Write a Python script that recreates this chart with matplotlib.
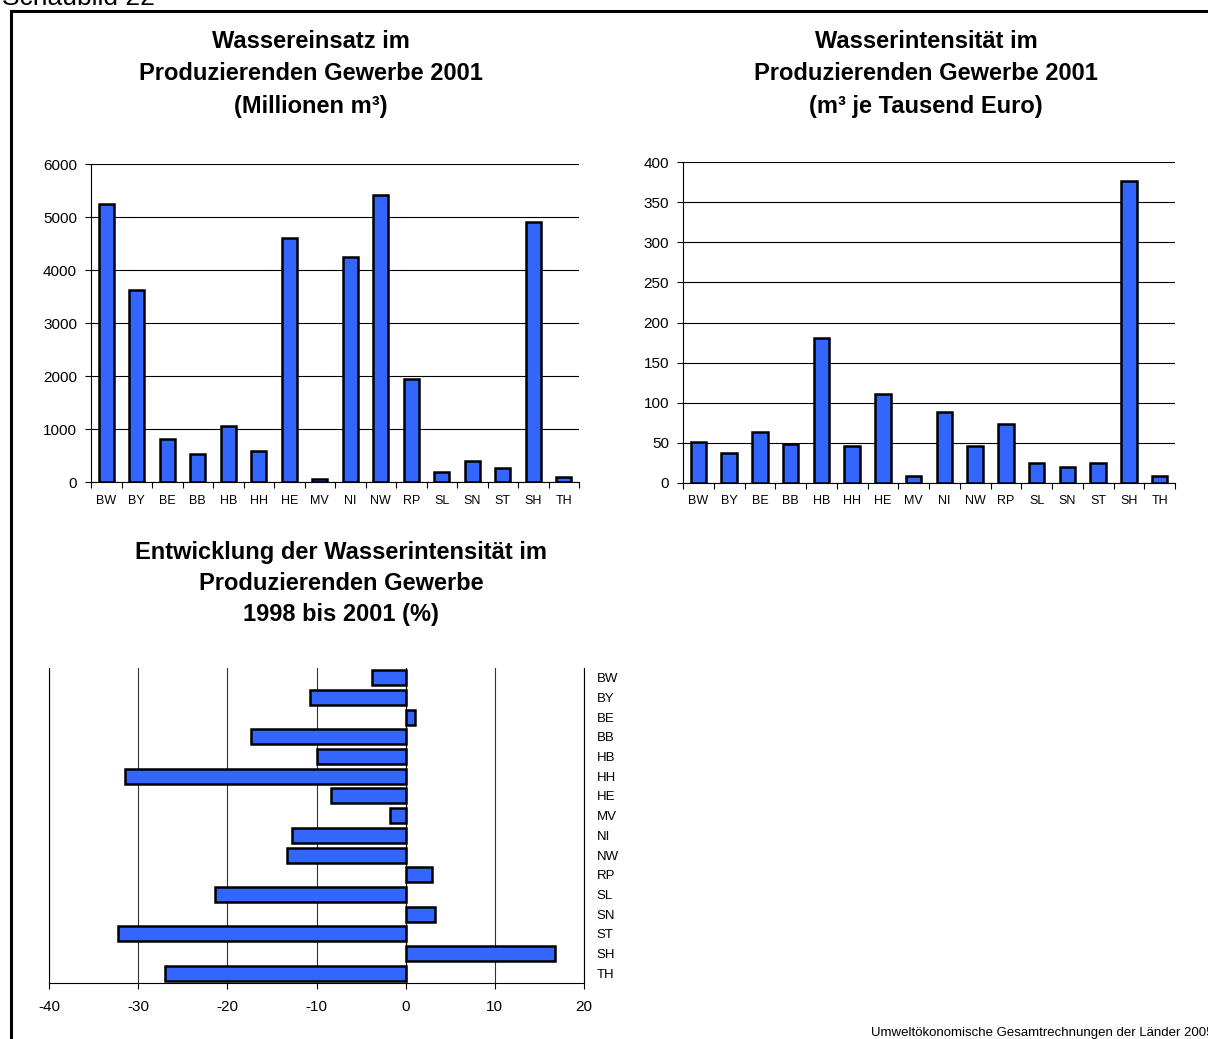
import matplotlib
matplotlib.use("Agg")
import matplotlib.pyplot as plt
from matplotlib.patches import Rectangle
import numpy as np

plt.rcParams['font.family'] = ['Liberation Sans', 'DejaVu Sans']
plt.rcParams['axes.unicode_minus'] = False

# Daten
laender = ['BW', 'BY', 'BE', 'BB', 'HB', 'HH', 'HE', 'MV',
           'NI', 'NW', 'RP', 'SL', 'SN', 'ST', 'SH', 'TH']
einsatz = [5250, 3630, 820, 530, 1050, 590, 4600, 50,
           4240, 5420, 1940, 180, 390, 260, 4900, 100]
intensitaet = [51.5, 37, 64, 48.5, 180.5, 46, 110.5, 8.5,
               88.5, 46, 73.5, 25.5, 20, 25, 376, 8.5]
entwicklung = [-3.8, -10.7, 1.1, -17.4, -10.0, -31.5, -8.4, -1.8,
               -12.7, -13.3, 3.0, -21.4, 3.3, -32.3, 16.7, -27.0]

ticks1 = [0, 1000, 2000, 3000, 4000, 5000, 6000]
ticks2 = [0, 50, 100, 150, 200, 250, 300, 350, 400]
ticks3 = [-40, -30, -20, -10, 0, 10, 20]

blau = '#3366ff'
W, H = 1208, 1039
fig = plt.figure(figsize=(W / 100, H / 100), dpi=100)


def box(l, r, t, b):
    return [l / W, 1 - b / H, (r - l) / W, (b - t) / H]


def px(x, y):
    return x / W, 1 - y / H


def vbar(ax, werte, yticks):
    x = np.arange(len(laender))
    ax.bar(x, werte, width=0.5, color=blau, edgecolor='black', linewidth=1.8, zorder=3)
    ax.set_xlim(-0.5, len(laender) - 0.5)
    ax.set_ylim(yticks[0], yticks[-1])
    ax.set_yticks(yticks)
    ax.set_xticks(x)
    ax.set_xticklabels(laender, fontsize=9)
    ax.set_xticks(np.arange(len(laender) + 1) - 0.5, minor=True)
    ax.tick_params(axis='x', which='major', length=0, pad=9)
    ax.tick_params(axis='x', which='minor', length=4, width=0.8, direction='out')
    ax.tick_params(axis='y', length=4, width=0.8, pad=6, labelsize=11)
    ax.yaxis.grid(True, color='black', linewidth=0.8, zorder=0)
    ax.set_axisbelow(True)
    for s in ['top', 'right']:
        ax.spines[s].set_visible(False)
    for s in ['left', 'bottom']:
        ax.spines[s].set_linewidth(0.8)


# Schaubild 1
ax1 = fig.add_axes(box(91, 579, 164, 482))
vbar(ax1, einsatz, ticks1)

# Schaubild 2
ax2 = fig.add_axes(box(683, 1175, 162, 483))
vbar(ax2, intensitaet, ticks2)

# Schaubild 3
ax3 = fig.add_axes(box(49, 584, 668, 983))
y = np.arange(len(laender))
ax3.axvline(0, color='black', linewidth=0.8, zorder=2)
ax3.barh(y, entwicklung, height=0.76, color=blau, edgecolor='black', linewidth=1.8, zorder=3)
ax3.set_ylim(len(laender) - 0.5, -0.5)
ax3.set_xlim(ticks3[0], ticks3[-1])
ax3.set_xticks(ticks3)
ax3.set_yticks(y)
ax3.set_yticklabels(laender, fontsize=9.5)
ax3.yaxis.tick_right()
ax3.tick_params(axis='y', length=0, pad=9)
ax3.tick_params(axis='x', length=4, width=0.8, pad=8, labelsize=11)
ax3.xaxis.grid(True, color='#333333', linewidth=0.8, zorder=0)
ax3.set_axisbelow(True)
ax3.spines['top'].set_visible(False)
for s in ['left', 'bottom', 'right']:
    ax3.spines[s].set_linewidth(0.8)

# Titel
titel_kw = dict(fontsize=17, fontweight='bold', ha='center', va='center')
for txt, yy in [('Wassereinsatz im', 42), ('Produzierenden Gewerbe 2001', 73),
                ('(Millionen m³)', 106)]:
    fig.text(*px(311, yy), txt, **titel_kw)
for txt, yy in [('Wasserintensität im', 42), ('Produzierenden Gewerbe 2001', 73),
                ('(m³ je Tausend Euro)', 106)]:
    fig.text(*px(926, yy), txt, **titel_kw)
for txt, yy in [('Entwicklung der Wasserintensität im', 553),
                ('Produzierenden Gewerbe', 584), ('1998 bis 2001 (%)', 615)]:
    fig.text(*px(341, yy), txt, **titel_kw)

# Rahmen, Kopf- und Fusszeile
fig.patches.append(Rectangle(px(11, 1060), (W + 20) / W, (1060 - 11) / H,
                             transform=fig.transFigure, fill=False,
                             edgecolor='black', linewidth=2.2))
fig.text(*px(2, 5), 'Schaubild 22', fontsize=19, ha='left', va='baseline')
fig.text(*px(871, 1036), 'Umweltökonomische Gesamtrechnungen der Länder 2005',
         fontsize=9.5, ha='left', va='baseline')

fig.savefig('out.png', dpi=100)
